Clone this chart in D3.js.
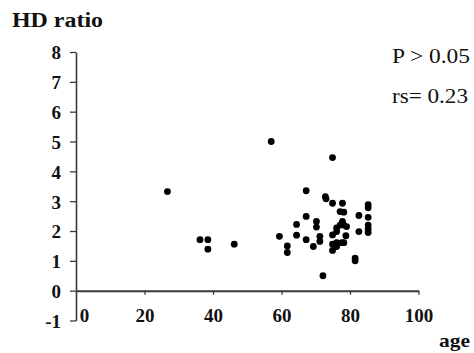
<!DOCTYPE html>
<html><head><meta charset="utf-8">
<script src="https://cdn.jsdelivr.net/npm/d3@7"></script>
<style>
html,body{margin:0;padding:0;background:#fff;}
svg{display:block;}
</style></head>
<body>
<script>
const ages = [26.7,36.2,38.5,38.5,46.2,57,59.4,61.7,61.7,64.4,64.4,67.2,67.2,67.2,69.3,70.2,70.2,71.2,71.2,72.1,72.8,73,74.9,74.9,74.9,74.9,74.9,76.1,76.1,76.1,76.1,77.1,77.1,77.6,77.8,77.8,78.2,78.2,78.2,78.8,79,81.5,81.5,82.6,82.6,85.3,85.3,85.3,85.3,85.3,85.3];
const ratios = [3.32,1.71,1.71,1.39,1.56,5.0,1.82,1.5,1.28,2.22,1.86,3.35,2.49,1.71,1.48,2.32,2.13,1.82,1.65,0.5,3.15,3.08,4.46,2.93,1.87,1.56,1.35,2.10,1.98,1.61,1.48,2.65,2.2,1.61,2.93,2.32,2.63,2.2,1.61,1.84,2.15,1.09,1.0,2.52,1.98,2.88,2.78,2.46,2.2,2.07,1.95];
const xTicks = [0,20,40,60,80,100];
const yTicks = [-1,0,1,2,3,4,5,6,7,8];
const yTitle = "HD ratio";
const xTitle = "age";
const notes = ["P > 0.05","rs= 0.23"];

const W=474,H=353;
const svg=d3.select("body").append("svg").attr("width",W).attr("height",H);
const x=d3.scaleLinear().domain([0,100]).range([76,418.5]);
const y=d3.scaleLinear().domain([-1,8]).range([320.5,52]);
const serif="Liberation Serif";
const axisCol="#3a3a3a";

// y axis
const ya=svg.append("g").attr("transform",`translate(${x(0)},0)`)
  .call(d3.axisLeft(y).tickValues(yTicks).tickSize(6).tickSizeOuter(0).tickPadding(9).tickFormat(d=>String(d)));
ya.select(".domain").attr("stroke",axisCol).attr("stroke-width",1.6);
ya.selectAll(".tick line").attr("stroke",axisCol).attr("stroke-width",1.3);
ya.selectAll(".tick text").style("font-family",serif).style("font-weight","bold")
  .style("font-size","19px").attr("fill","#111").attr("dy","0.36em");

// x axis at y=0
const xa=svg.append("g").attr("transform",`translate(0,${y(0)})`)
  .call(d3.axisBottom(x).tickValues(xTicks).tickSize(4).tickSizeOuter(0).tickPadding(14).tickFormat(d=>String(d)));
xa.select(".domain").attr("stroke",axisCol).attr("stroke-width",2);
xa.selectAll(".tick line").attr("stroke",axisCol).attr("stroke-width",1.3)
  .filter(d=>d===0).remove();
xa.selectAll(".tick text").style("font-family",serif).style("font-weight","bold")
  .style("font-size","19px").attr("fill","#111")
  .attr("dx",d=>d===0?"8":"0");

// points
svg.append("g").selectAll("circle").data(ages.map((a,i)=>[a,ratios[i]])).join("circle")
  .attr("cx",d=>x(d[0])).attr("cy",d=>y(d[1])).attr("r",3.4).attr("fill","#000");

// titles
function label(t,xx,yy,size,bold,len){
  svg.append("text").attr("x",xx).attr("y",yy)
    .style("font-family",serif).style("font-weight",bold?"bold":"normal").style("font-size",size+"px")
    .attr("textLength",len).attr("lengthAdjust","spacingAndGlyphs").attr("fill","#111").text(t);
}
label(yTitle,12,27,20,true,91);
label(xTitle,439,347,19,true,31);
label(notes[0],392,63,20,false,78);
label(notes[1],392,103,20,false,76);
</script>
</body></html>
